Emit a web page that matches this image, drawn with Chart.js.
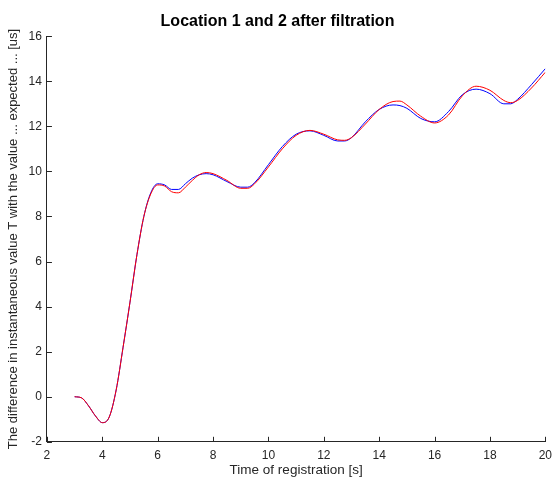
<!DOCTYPE html>
<html>
<head>
<meta charset="utf-8">
<script src="https://cdn.jsdelivr.net/npm/chart.js@4"></script>
<style>
  html, body { margin: 0; padding: 0; background: #fff; }
  #wrap { width: 554px; height: 479px; }
</style>
</head>
<body>
<div id="wrap"><canvas id="chart"></canvas></div>
<script>
// time axis [s]
const timeValues = [3.0, 3.25, 3.5, 3.75, 4.0, 4.25, 4.5, 4.75, 5.0, 5.25, 5.5, 5.75,
  6.0, 6.25, 6.5, 6.75, 7.0, 7.25, 7.5, 7.75, 8.0, 8.5, 9.0, 9.25, 9.5, 10.0, 10.5,
  11.0, 11.5, 12.0, 12.5, 12.75, 13.0, 13.5, 14.0, 14.5, 14.75, 15.0, 15.5, 16.0,
  16.5, 17.0, 17.5, 18.0, 18.5, 18.75, 19.0, 19.5, 20.0];

// location 1 (blue)
const location1 = [0.0, -0.05, -0.4, -0.85, -1.15, -0.9, 0.3, 2.2, 4.2, 6.3, 8.0, 9.05,
  9.45, 9.4, 9.2, 9.2, 9.45, 9.7, 9.85, 9.9, 9.85, 9.55, 9.3, 9.3, 9.5, 10.3, 11.1,
  11.65, 11.8, 11.6, 11.35, 11.35, 11.5, 12.2, 12.75, 12.95, 12.92, 12.8, 12.35, 12.2,
  12.65, 13.4, 13.65, 13.45, 13.0, 13.0, 13.2, 13.85, 14.56];

// location 2 (red)
const location2 = [0.0, -0.05, -0.4, -0.85, -1.15, -0.9, 0.3, 2.2, 4.2, 6.3, 8.0, 9.0,
  9.4, 9.35, 9.1, 9.05, 9.3, 9.6, 9.85, 9.95, 9.9, 9.6, 9.25, 9.25, 9.45, 10.2, 11.0,
  11.6, 11.82, 11.65, 11.4, 11.38, 11.5, 12.1, 12.75, 13.1, 13.12, 12.95, 12.45, 12.15,
  12.5, 13.35, 13.78, 13.6, 13.15, 13.05, 13.15, 13.7, 14.4];

const xTicks = [2, 4, 6, 8, 10, 12, 14, 16, 18, 20];
const yTicks = [-2, 0, 2, 4, 6, 8, 10, 12, 14, 16];

const axisColor = '#262626';
const fontFamily = '"Liberation Sans", Arial, sans-serif';

function toPoints(ys) {
  return timeValues.map((t, i) => ({ x: t, y: ys[i] }));
}

// ticks drawn inside the axes, like matlab
const innerTicks = {
  id: 'innerTicks',
  afterDraw(chart) {
    const { ctx, chartArea, scales } = chart;
    const len = 5;
    ctx.save();
    ctx.strokeStyle = axisColor;
    ctx.lineWidth = 1;
    ctx.beginPath();
    xTicks.forEach(v => {
      const px = Math.round(scales.x.getPixelForValue(v)) + 0.5;
      ctx.moveTo(px, chartArea.bottom);
      ctx.lineTo(px, chartArea.bottom - len);
    });
    yTicks.forEach(v => {
      const py = Math.round(scales.y.getPixelForValue(v)) + 0.5;
      ctx.moveTo(chartArea.left, py);
      ctx.lineTo(chartArea.left + len, py);
    });
    ctx.stroke();
    ctx.restore();
  }
};

new Chart(document.getElementById('chart'), {
  type: 'line',
  data: {
    datasets: [{
      label: 'Location 2',
      data: toPoints(location2),
      borderColor: '#ff0000',
      borderWidth: 1,
      pointRadius: 0,
      cubicInterpolationMode: 'monotone',
      fill: false,
      order: 0
    }, {
      label: 'Location 1',
      data: toPoints(location1),
      borderColor: '#0000ff',
      borderWidth: 1,
      pointRadius: 0,
      cubicInterpolationMode: 'monotone',
      fill: false,
      order: 1
    }]
  },
  options: {
    responsive: true,
    maintainAspectRatio: false,
    animation: false,
    layout: {
      padding: { left: 6, right: 5, top: 4, bottom: 1 }
    },
    plugins: {
      legend: { display: false },
      tooltip: { enabled: false },
      title: {
        display: true,
        text: 'Location 1 and 2 after filtration',
        color: '#000',
        font: { family: fontFamily, size: 16, weight: 'bold' },
        padding: { top: 8, bottom: 5 }
      }
    },
    scales: {
      x: {
        type: 'linear',
        min: 2,
        max: 20,
        afterBuildTicks: axis => { axis.ticks = xTicks.map(v => ({ value: v })); },
        grid: { drawOnChartArea: false, drawTicks: false, tickLength: 0 },
        border: { color: axisColor, width: 1 },
        ticks: {
          color: axisColor,
          padding: 2,
          maxRotation: 0,
          font: { family: fontFamily, size: 12, lineHeight: 2 }
        },
        title: {
          display: true,
          text: 'Time of registration [s]',
          color: axisColor,
          padding: { top: -8, bottom: 0 },
          font: { family: fontFamily, size: 13.5 }
        }
      },
      y: {
        type: 'linear',
        min: -2,
        max: 16,
        afterBuildTicks: axis => { axis.ticks = yTicks.map(v => ({ value: v })); },
        grid: { drawOnChartArea: false, drawTicks: false, tickLength: 0 },
        border: { color: axisColor, width: 1 },
        ticks: {
          color: axisColor,
          padding: 5,
          font: { family: fontFamily, size: 12 }
        },
        title: {
          display: true,
          text: 'The difference in instantaneous value T with the value ... expected ... [us]',
          color: axisColor,
          padding: { top: 0, bottom: 2 },
          font: { family: fontFamily, size: 13 }
        }
      }
    }
  },
  plugins: [innerTicks]
});
</script>
</body>
</html>
